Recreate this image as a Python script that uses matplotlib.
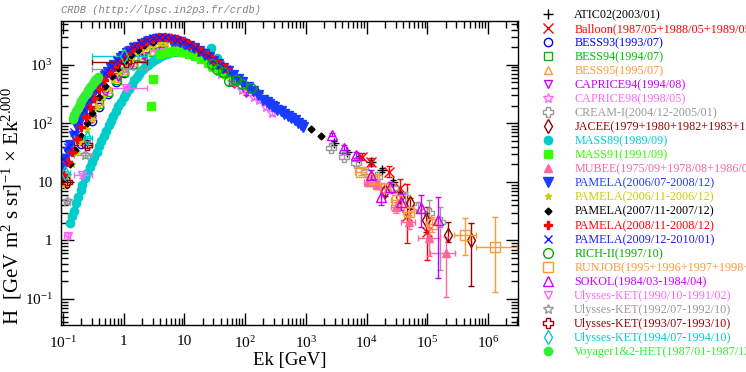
import numpy as np
import matplotlib
matplotlib.use("Agg")
import matplotlib.pyplot as plt
from matplotlib.lines import Line2D

plt.rcParams["font.family"] = ["Liberation Serif", "DejaVu Serif"]
plt.rcParams["mathtext.fontset"] = "custom"
plt.rcParams["mathtext.rm"] = "Liberation Serif"
plt.rcParams["mathtext.it"] = "Liberation Serif:italic"

# ---------------------------------------------------------------------------
# Data (Ek in GeV, flux x Ek^2)
# ---------------------------------------------------------------------------
atic_e = [60, 100, 160, 250, 400, 630, 2900, 4700, 7400, 11700, 17900, 27600]
atic_v = [650, 470, 330, 230, 165, 118, 46, 33, 26, 22, 16, 10]

balloon_e = [8300, 12000, 23000, 36000, 47000, 100000]
balloon_v = [27, 22, 15, 7.9, 2.6, 1.4]
balloon_lo = [24, 19, 12, 6.0, 0.9, 0.46]
balloon_hi = [31, 26, 19, 11, 9.3, 3.7]

bess93_e = [0.2, 0.3, 0.4, 0.55, 0.75, 1.0, 1.4, 2.0, 3.0, 4.5, 7.0, 10]
bess93_v = [45, 110, 190, 320, 500, 720, 1000, 1300, 1650, 1850, 1900, 1750]

bess94_e = [0.2, 0.28, 0.4, 0.55, 0.77, 1.0, 1.4, 2.0, 3.0, 4.5, 7.0, 10]
bess94_v = [55, 150, 210, 350, 550, 760, 1050, 1350, 1650, 1800, 1800, 1650]

bess95_e = [0.2, 0.3, 0.4, 0.55, 0.75, 1.0, 1.4, 2.0, 3.0, 4.5, 7.0, 10]
bess95_v = [60, 140, 240, 390, 600, 830, 1130, 1450, 1750, 1900, 1900, 1750]

caprice94_e = [0.3, 0.5, 0.8, 1.3, 2.2, 4.0, 8.0, 22, 40, 65, 105]
caprice94_v = [120, 330, 620, 1000, 1400, 1700, 1750, 1150, 720, 470, 330]

caprice98_e = [3.5, 5, 8, 12, 18, 27, 40, 60, 90, 140, 170, 220, 275]
caprice98_v = [1650, 1800, 1750, 1550, 1250, 950, 700, 500, 370, 280, 250, 190, 150]

cream_e = [2600, 4200, 6600, 9900, 15000, 27000, 43000, 70000, 105000, 160000]
cream_v = [38, 27, 21, 15, 12, 7.9, 5.6, 3.7, 3.0, 2.1]
cream_lo = [35, 25, 19, 13.5, 10.5, 6.8, 4.6, 2.9, 1.26, 0.31]
cream_hi = [41, 29.5, 23, 16.5, 13.5, 9.0, 6.6, 4.6, 4.9, 3.7]

jacee_e = [20000, 35000, 52000, 96000, 220000, 530000]
jacee_v = [7.0, 5.5, 4.4, 2.2, 1.26, 1.0]
jacee_lo = [5.8, 4.5, 3.5, 1.4, 0.94, 0.17]
jacee_hi = [8.3, 6.7, 5.4, 3.0, 2.1, 2.0]

mass89_e = [0.13, 0.14, 0.15, 0.165, 0.18, 0.195, 0.21, 0.23, 0.25, 0.275,
            0.3, 0.33, 0.36, 0.39, 0.43, 0.47, 0.52, 0.57, 0.62, 0.68, 0.75,
            0.82, 0.9, 1.0, 1.1, 1.22, 1.35, 1.5, 1.65, 1.82, 2.0, 2.25, 2.5,
            2.75, 3.0, 3.35, 3.7, 4.1, 4.5, 5.0, 5.5, 6.2, 7.0, 8.0, 9.0,
            10.5, 12, 14, 16, 27, 35]
mass89_v = [2.0, 2.6, 3.2, 4.3, 5.5, 7.2, 9, 11.5, 14, 18, 22, 27, 33, 41,
            50, 62, 75, 92, 110, 134, 160, 195, 230, 280, 330, 390, 460, 540,
            620, 710, 800, 900, 1000, 1080, 1150, 1240, 1330, 1410, 1480,
            1540, 1600, 1640, 1680, 1700, 1700, 1700, 1680, 1640, 1600, 1950,
            1310]

mass91_e = [2.8, 3.0, 4.0, 5.5, 7.0, 9.0, 12, 15, 19, 24, 30, 38, 48]
mass91_v = [200, 575, 1500, 1650, 1700, 1680, 1550, 1400, 1250, 1080, 920, 780, 700]

mubee_e = [10700, 14600, 30000, 49000, 105000, 200000]
mubee_v = [10, 8.9, 3.7, 2.1, 1.1, 0.62]
mubee_lo = [8.5, 7.5, 3.0, 1.6, 0.55, 0.11]
mubee_hi = [12, 10.5, 4.5, 2.7, 1.7, 1.15]
mubee_xlo = [9000, 12500, 25000, 37000, 70000, 110000]
mubee_xhi = [12800, 17000, 36000, 63000, 160000, 290000]

pam1_e = [0.1, 0.11, 0.12, 0.13, 0.15, 0.17, 0.19, 0.21, 0.24, 0.27, 0.3,
          0.34, 0.38, 0.43, 0.49, 0.55, 0.62, 0.7, 0.8, 0.9, 1.0, 1.15, 1.3,
          1.5, 1.7, 2.0, 2.3, 2.7, 3.1, 3.6, 4.2, 5.0, 6.0, 7.0, 8.5, 10, 12,
          14.5, 17.5, 21, 25, 30, 36, 43, 52, 62, 75, 90, 110, 135, 165, 200,
          225, 250, 275, 300, 340, 390, 440, 500, 570, 650, 750, 820, 900]
pam1_v = [18, 25, 33, 42, 60, 85, 110, 140, 190, 240, 300, 370, 450, 540,
          650, 760, 880, 1010, 1160, 1300, 1420, 1570, 1720, 1900, 2050, 2250,
          2400, 2550, 2650, 2720, 2750, 2730, 2660, 2580, 2450, 2300, 2130,
          1930, 1720, 1520, 1340, 1170, 1020, 890, 770, 670, 580, 500, 420,
          360, 300, 255, 235, 215, 200, 190, 172, 160, 147, 134, 122, 112,
          100, 93, 87]

pam2_e = [0.1, 0.12, 0.14, 0.17, 0.2, 0.25, 0.3, 0.37, 0.45, 0.55, 0.68,
          0.85, 1.05, 1.3, 1.6, 2.0, 2.5, 3.2, 4.0, 5.0]
pam2_v = [9, 13, 20, 32, 48, 80, 120, 190, 280, 400, 560, 760, 990, 1250,
          1500, 1780, 2050, 2250, 2350, 2380]

pam3_e = [0.1, 0.13, 0.16, 0.2, 0.25, 0.3, 0.4, 0.5, 0.65, 0.8, 1.0, 1.3,
          1.7, 2.2, 3.0, 1200, 1800]
pam3_v = [11, 20, 35, 60, 100, 150, 280, 430, 650, 870, 1120, 1450, 1800,
          2150, 2450, 81, 61]

pam4_e = [0.1, 0.12, 0.14, 0.17, 0.2, 0.24, 0.28, 0.33, 0.4, 0.48, 0.58,
          0.7, 0.85, 1.0, 1.25, 1.5, 1.9, 2.4, 3.0, 3.8, 4.8, 6.0, 7.5, 9.5,
          12, 15, 19, 24, 30, 38, 48]
pam4_v = [13, 22, 33, 55, 85, 130, 190, 270, 390, 540, 720, 930, 1180,
          1400, 1700, 1980, 2300, 2600, 2800, 2950, 2980, 2900, 2750, 2520,
          2250, 1980, 1700, 1450, 1230, 1030, 870]

pam5_e = [0.1, 0.12, 0.15, 0.18, 0.22, 0.27, 0.33, 0.4, 0.5, 0.62, 0.77,
          0.95, 1.2, 1.5, 1.9, 2.4, 3.0, 3.8, 4.8, 6.0, 7.5, 9.5, 12, 15, 19,
          24, 30, 38, 48]
pam5_v = [25, 40, 70, 110, 170, 260, 380, 520, 720, 950, 1200, 1480, 1800,
          2100, 2400, 2650, 2850, 2950, 2950, 2850, 2700, 2450, 2200, 1950,
          1680, 1420, 1200, 1000, 840]

rich_e = [28, 35, 44, 55, 70, 90, 125]
rich_v = [1050, 850, 760, 530, 560, 470, 405]

runjob_e = [8000, 13000, 20000, 31000, 49000, 117000, 420000, 1300000]
runjob_v = [15, 11, 8.0, 4.9, 3.1, 1.9, 1.26, 0.78]
runjob_lo = [13, 9.5, 6.8, 4.0, 2.6, 1.4, 0.57, 0.13]
runjob_hi = [17, 12.5, 9.2, 5.9, 3.7, 2.5, 2.4, 2.5]
runjob_xlo = [6500, 10500, 16500, 25500, 40000, 95000, 270000, 630000]
runjob_xhi = [9800, 16000, 24500, 38000, 60000, 145000, 630000, 3000000]

sokol_e = [2700, 4200, 6600, 12000, 17000, 24000, 37000, 78000, 150000]
sokol_v = [64, 38, 29, 13, 5.5, 8.1, 4.6, 3.6, 2.2]
sokol_lo = [60, 35, 26, 11, 4.1, 6.5, 3.3, 1.7, 0.23]
sokol_hi = [68, 42, 33, 16, 7.9, 10, 6.2, 6.0, 5.6]

uly90_e = [0.12, 0.21, 1.1]
uly90_v = [1.2, 13, 400]
uly92_e = [0.115, 0.23, 1.05]
uly92_v = [4.7, 29, 850]
uly93_e = [0.115, 0.25, 1.1]
uly93_v = [9.8, 43, 1130]
uly94_e = [0.108, 0.25, 1.0]
uly94_v = [14, 56, 1400]
uly_xlo = [0.105, 0.15, 0.3]
uly_xhi = [0.13, 0.3, 2.4]

voyager_e = [0.145, 0.155, 0.165, 0.175, 0.19, 0.2, 0.215, 0.23, 0.245,
             0.26, 0.28, 0.3, 0.32, 0.34, 0.36, 0.38]
voyager_v = [120, 140, 160, 180, 215, 240, 270, 300, 335, 370, 420, 460,
             500, 540, 580, 610]

labels = [
    "ATIC02(2003/01)",
    "Balloon(1987/05+1988/05+1989/05+1990/05+1991/05)",
    "BESS93(1993/07)",
    "BESS94(1994/07)",
    "BESS95(1995/07)",
    "CAPRICE94(1994/08)",
    "CAPRICE98(1998/05)",
    "CREAM-I(2004/12-2005/01)",
    "JACEE(1979+1980+1982+1983+1987+1988+1990+1994+1995)",
    "MASS89(1989/09)",
    "MASS91(1991/09)",
    "MUBEE(1975/09+1978/08+1986/07+1987/07)",
    "PAMELA(2006/07-2008/12)",
    "PAMELA(2006/11-2006/12)",
    "PAMELA(2007/11-2007/12)",
    "PAMELA(2008/11-2008/12)",
    "PAMELA(2009/12-2010/01)",
    "RICH-II(1997/10)",
    "RUNJOB(1995+1996+1997+1998+1999)",
    "SOKOL(1984/03-1984/04)",
    "Ulysses-KET(1990/10-1991/02)",
    "Ulysses-KET(1992/07-1992/10)",
    "Ulysses-KET(1993/07-1993/10)",
    "Ulysses-KET(1994/07-1994/10)",
    "Voyager1&2-HET(1987/01-1987/12)",
]


def rel_err(v, lo, hi):
    v = np.asarray(v, float)
    return [v - np.asarray(lo, float), np.asarray(hi, float) - v]


def frac_err(v, f):
    v = np.asarray(v, float)
    return [v * f, v * f]


series = [
    # (x, y, xerr, yerr, color, marker, filled, ms)
    (atic_e, atic_v, None, frac_err(atic_v, 0.08), "black", "+", True, 7),
    (balloon_e, balloon_v, None, rel_err(balloon_v, balloon_lo, balloon_hi), "red", "x", True, 7),
    (bess93_e, bess93_v, None, None, "#0000ff", "o", False, 6),
    (bess94_e, bess94_v, None, None, "#00bb00", "s", False, 6),
    (bess95_e, bess95_v, None, None, "#ff9933", "^", False, 6),
    (caprice94_e, caprice94_v, None, frac_err(caprice94_v, 0.06), "#cc00ff", "v", False, 6),
    (caprice98_e, caprice98_v, None, frac_err(caprice98_v, 0.07), "#ff66ff", "*", False, 7),
    (cream_e, cream_v, None, rel_err(cream_v, cream_lo, cream_hi), "#999999", "P", False, 7),
    (jacee_e, jacee_v, None, rel_err(jacee_v, jacee_lo, jacee_hi), "#990000", "d", False, 7),
    (mass89_e, mass89_v, None, None, "#00cccc", "o", True, 6),
    (mass91_e, mass91_v, None, None, "#33ff00", "s", True, 6),
    (mubee_e, mubee_v, rel_err(mubee_e, mubee_xlo, mubee_xhi), rel_err(mubee_v, mubee_lo, mubee_hi), "#ff6699", "^", True, 6),
    (pam1_e, pam1_v, None, None, "#1a3cff", "v", True, 6.5),
    (pam2_e, pam2_v, None, None, "#cccc00", "*", True, 5),
    (pam3_e, pam3_v, None, None, "black", "D", True, 3.5),
    (pam4_e, pam4_v, None, None, "red", "P", True, 5.5),
    (pam5_e, pam5_v, None, None, "#1a1aff", "x", True, 6),
    (rich_e, rich_v, None, frac_err(rich_v, 0.15), "#00aa00", "o", False, 7),
    (runjob_e, runjob_v, rel_err(runjob_e, runjob_xlo, runjob_xhi), rel_err(runjob_v, runjob_lo, runjob_hi), "#ff9933", "s", False, 7),
    (sokol_e, sokol_v, None, rel_err(sokol_v, sokol_lo, sokol_hi), "#cc00ff", "^", False, 7),
    (uly90_e, uly90_v, rel_err(uly90_e, uly_xlo, uly_xhi), frac_err(uly90_v, 0.1), "#ff66ff", "v", False, 6),
    (uly92_e, uly92_v, rel_err(uly92_e, uly_xlo, uly_xhi), frac_err(uly92_v, 0.1), "#999999", "*", False, 7),
    (uly93_e, uly93_v, rel_err(uly93_e, uly_xlo, uly_xhi), frac_err(uly93_v, 0.1), "#990000", "P", False, 7),
    (uly94_e, uly94_v, rel_err(uly94_e, uly_xlo, uly_xhi), frac_err(uly94_v, 0.1), "#00cccc", "d", False, 7),
    (voyager_e, voyager_v, None, None, "#33ee33", "o", True, 6),
]

fig = plt.figure(figsize=(7.46, 3.72), dpi=100)
ax = fig.add_axes([61 / 746, 1 - 325 / 372, (518 - 61) / 746, (325 - 21) / 372])

handles = []
for i, (x, y, xerr, yerr, col, mk, filled, ms) in enumerate(series):
    mfc = col if filled else "none"
    ax.errorbar(x, y, xerr=xerr, yerr=yerr, fmt=mk, color=col, mfc=mfc,
                mec=col, ms=ms, mew=1.0, elinewidth=1.0, capsize=2.5,
                capthick=1.0, zorder=2 + i * 0.01)
    handles.append(Line2D([], [], linestyle="none", marker=mk, color=col,
                          mfc=mfc, mec=col, ms=ms, mew=1.0))

ax.set_xscale("log")
ax.set_yscale("log")
ax.set_xlim(0.093, 3.1e6)
ax.set_ylim(0.036, 5600)

xt = [0.1, 1, 10, 100, 1e3, 1e4, 1e5, 1e6]
xl = ["$10^{-1}$", "1", "10", "$10^{2}$", "$10^{3}$", "$10^{4}$", "$10^{5}$", "$10^{6}$"]
yt = [0.1, 1, 10, 100, 1000]
yl = ["$10^{-1}$", "1", "10", "$10^{2}$", "$10^{3}$"]
ax.set_xticks(xt, xl)
ax.set_yticks(yt, yl)
ax.tick_params(which="both", direction="in", top=True, right=True,
               labelsize=11, width=1.0)
ax.tick_params(which="major", length=9, pad=6)
ax.tick_params(which="minor", length=5)
ax.tick_params(axis="x", which="major", pad=7)
for s in ax.spines.values():
    s.set_linewidth(1.0)

ax.set_xlabel("Ek [GeV]", fontsize=13.5)
ax.xaxis.set_label_coords(0.5, -0.088)
ax.set_ylabel(r"H  [GeV m$^{2}$ s sr]$^{-1}$ $\times$ Ek$^{2.000}$", fontsize=15)
ax.yaxis.set_label_coords(-0.082, 0.39)

fig.text(61 / 746, 1 - 10 / 372, "CRDB (http://lpsc.in2p3.fr/crdb)",
         family="Liberation Mono", style="italic", fontsize=7.5,
         color="#808080", va="center", ha="left")

leg = fig.legend(handles, labels, loc="upper left",
                 bbox_to_anchor=(538 / 746, 1 - 9 / 372), frameon=False,
                 fontsize=8.7, labelspacing=0.17, handlelength=1.6,
                 handletextpad=1.4, borderpad=0, borderaxespad=0)
for t, s in zip(leg.get_texts(), series):
    t.set_color(s[4])

fig.savefig("out.png", dpi=100)
